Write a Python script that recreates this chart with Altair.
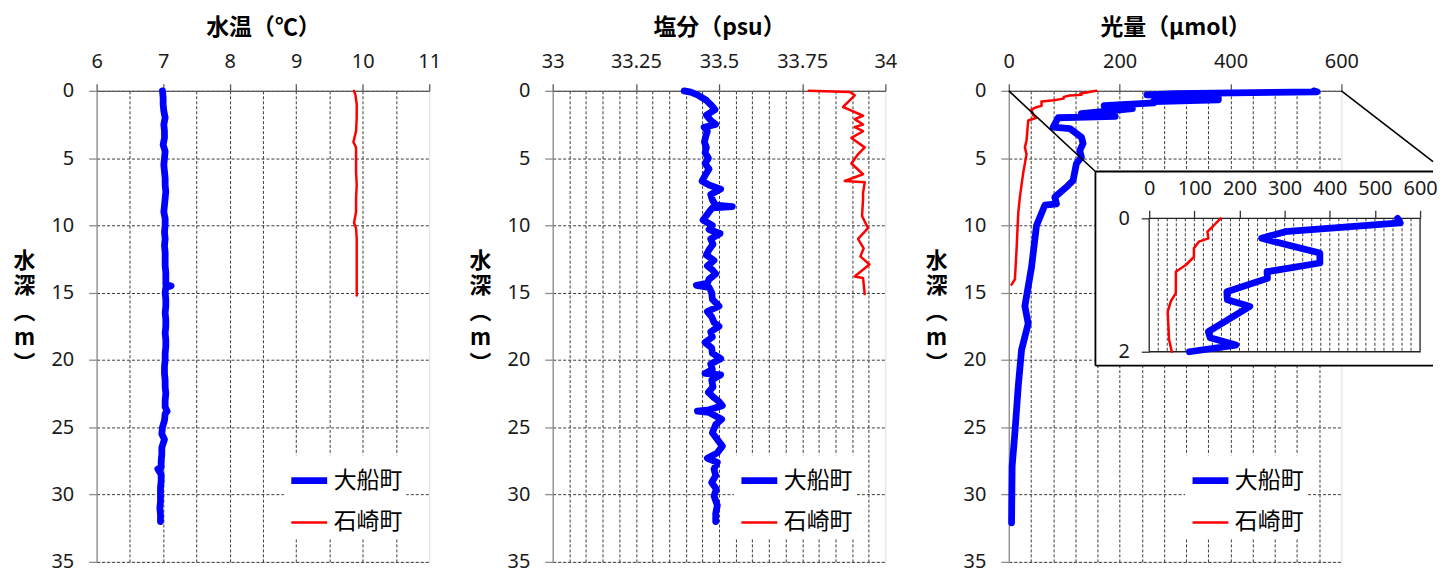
import altair as alt
import pandas as pd

# ---------------- data ----------------
SITES = ["大船町", "石崎町"]
SITE_COLORS = ["#0000FF", "#FF0000"]
SITE_WIDTHS = [6.8, 2.5]

DEPTH_TICKS = [0, 5, 10, 15, 20, 25, 30, 35]
TEMP_TICKS = [6, 7, 8, 9, 10, 11]
TEMP_GRID = [6.5, 7, 7.5, 8, 8.5, 9, 9.5, 10, 10.5]
SAL_TICKS = [33, 33.25, 33.5, 33.75, 34]
SAL_GRID = [33.05, 33.1, 33.15, 33.2, 33.25, 33.3, 33.35, 33.4, 33.45, 33.5,
            33.55, 33.6, 33.65, 33.7, 33.75, 33.8, 33.85, 33.9, 33.95]
LIGHT_TICKS = [0, 200, 400, 600]
LIGHT_GRID = [40, 80, 120, 160, 200, 240, 280, 320, 360, 400, 440, 480, 520, 560]
INSET_TICKS = [0, 100, 200, 300, 400, 500, 600]
INSET_GRID = [20, 40, 60, 80, 100, 120, 140, 160, 180, 200, 220, 240, 260, 280, 300,
              320, 340, 360, 380, 400, 420, 440, 460, 480, 500, 520, 540, 560, 580]
INSET_DEPTH_TICKS = [0, 2]

# 水温
temp_ofunato_depth = [0, 0.5, 1, 1.5, 2, 2.5, 3, 3.5, 4, 4.5, 5, 5.5, 6, 6.5, 7, 7.5, 8, 8.5,
                      9, 9.5, 10, 10.5, 11, 11.5, 12, 12.5, 13, 13.5, 14, 14.4, 14.5, 14.6, 15,
                      15.5, 16, 16.5, 17, 17.5, 18, 18.5, 19, 19.5, 20, 20.5, 21, 21.5, 22, 22.5,
                      23, 23.5, 23.8, 24, 24.5, 25, 25.5, 25.9, 26.5, 27, 27.5, 28, 28.1, 28.5,
                      29, 29.5, 30, 30.5, 31, 31.5, 32]
temp_ofunato_value = [6.99, 7.00, 7.00, 7.01, 7.03, 7.01, 7.02, 7.02, 7.00, 7.03, 7.02, 7.01, 7.02,
                      7.03, 7.03, 7.04, 7.03, 7.02, 7.01, 7.03, 7.03, 7.02, 7.03, 7.02, 7.03, 7.03,
                      7.03, 7.04, 7.04, 7.04, 7.12, 7.04, 7.03, 7.04, 7.04, 7.03, 7.04, 7.04, 7.03,
                      7.04, 7.04, 7.03, 7.03, 7.02, 7.02, 7.03, 7.03, 7.04, 7.03, 7.03, 7.06, 7.03,
                      7.02, 6.99, 6.98, 7.02, 6.98, 6.98, 6.97, 6.97, 6.92, 6.97, 6.97, 6.96, 6.96,
                      6.96, 6.95, 6.96, 6.96]
temp_ishizaki_depth = [0, 0.3, 1, 2, 3, 3.8, 4.2, 5, 6, 7, 8, 9, 9.8, 10.2, 11, 12, 13, 14, 15.2]
temp_ishizaki_value = [9.87, 9.89, 9.91, 9.91, 9.90, 9.86, 9.90, 9.90, 9.90, 9.91, 9.90, 9.90,
                       9.87, 9.90, 9.91, 9.91, 9.91, 9.91, 9.91]

# 塩分
sal_ofunato_depth = [0, 0.1, 0.3, 0.7, 1.1, 1.4, 1.8, 2.2, 2.5, 2.7, 3.0, 3.4, 3.8, 4.2, 4.6, 5.0,
                     5.4, 5.8, 6.2, 6.7, 7.0, 7.3, 7.7, 8.1, 8.5, 8.6, 8.7, 9.0, 9.6, 10.0, 10.3,
                     10.6, 11.0, 11.4, 11.8, 12.2, 12.6, 13.0, 13.3, 13.6, 14.0, 14.3, 14.45, 14.6,
                     15.0, 15.5, 16.0, 16.4, 16.8, 17.2, 17.5, 17.9, 18.3, 18.7, 19.1, 19.5, 19.9,
                     20.3, 20.7, 21.0, 21.1, 21.5, 22.0, 22.4, 22.8, 23.1, 23.4, 23.7, 23.8, 23.9,
                     24.4, 24.8, 25.4, 25.9, 26.4, 26.9, 27.3, 27.6, 28.1, 28.6, 29.1, 29.6, 30.1,
                     30.8, 31.4, 32.0]
sal_ofunato_value = [33.395, 33.415, 33.435, 33.462, 33.478, 33.488, 33.462, 33.475, 33.490, 33.455,
                     33.465, 33.460, 33.456, 33.462, 33.458, 33.468, 33.458, 33.470, 33.460, 33.449,
                     33.470, 33.505, 33.475, 33.480, 33.490, 33.540, 33.480, 33.470, 33.452, 33.480,
                     33.470, 33.503, 33.475, 33.482, 33.470, 33.462, 33.485, 33.465, 33.480, 33.490,
                     33.470, 33.465, 33.432, 33.470, 33.478, 33.480, 33.500, 33.465, 33.478, 33.485,
                     33.500, 33.475, 33.480, 33.458, 33.478, 33.480, 33.505, 33.475, 33.480, 33.458,
                     33.505, 33.478, 33.482, 33.468, 33.485, 33.500, 33.510, 33.470, 33.435, 33.470,
                     33.508, 33.490, 33.480, 33.495, 33.510, 33.495, 33.465, 33.495, 33.485, 33.490,
                     33.478, 33.492, 33.485, 33.495, 33.490, 33.490]
sal_ishizaki_depth = [0, 0.08, 0.33, 0.7, 1.2, 1.47, 1.85, 2.1, 2.5, 2.7, 3.0, 3.5, 4.2, 4.8, 5.4,
                      6.2, 6.7, 6.8, 7.6, 8.1, 9.3, 10.2, 11.0, 11.7, 12.3, 12.9, 13.8, 13.9, 15.1]
sal_ishizaki_value = [33.77, 33.893, 33.908, 33.893, 33.873, 33.898, 33.933, 33.908, 33.933,
                      33.908, 33.933, 33.898, 33.938, 33.915, 33.898, 33.933, 33.878, 33.938,
                      33.933, 33.933, 33.930, 33.948, 33.918, 33.935, 33.925, 33.952, 33.908,
                      33.933, 33.938]

# 光量
light_ofunato_depth = [0, 0.07, 0.2, 0.3, 0.52, 0.67, 0.8, 0.9, 1.1, 1.22, 1.32, 1.7, 1.79, 1.9,
                       2.0, 2.7, 2.8, 3.45, 3.9, 4.44, 4.93, 5.4, 6.66, 7.15, 7.9, 8.4, 8.5, 10.0,
                       13.1, 16.0, 17.3, 19.25, 21.97, 25.4, 27.9, 32.1]
light_ofunato_value = [550, 556, 301, 249, 378, 378, 261, 262, 172, 173, 223, 131, 135, 192, 89,
                       80, 110, 131, 134, 128, 131, 122, 116, 104, 83, 86, 65, 50, 41, 29, 35, 23,
                       17, 11, 6, 5]
light_ishizaki_depth = [0, 0.13, 0.2, 0.3, 0.35, 0.45, 0.58, 0.7, 0.8, 1.12, 1.24, 1.4, 1.82, 2.0,
                        2.2, 3.7, 4.2, 4.7, 6.1, 7.9, 9.1, 11.8, 14.0, 14.4]
light_ishizaki_value = [158, 140, 129, 131, 110, 99, 99, 81, 59, 59, 48, 41, 44, 50, 35, 32, 29,
                        32, 26, 20, 17, 14, 11, 5]


def profile_frame(d1, v1, d2, v2):
    assert len(d1) == len(v1) and len(d2) == len(v2)
    rows = [{"depth": d, "value": v, "site": SITES[0]} for d, v in zip(d1, v1)]
    rows += [{"depth": d, "value": v, "site": SITES[1]} for d, v in zip(d2, v2)]
    return pd.DataFrame(rows)


temp_df = profile_frame(temp_ofunato_depth, temp_ofunato_value, temp_ishizaki_depth, temp_ishizaki_value)
sal_df = profile_frame(sal_ofunato_depth, sal_ofunato_value, sal_ishizaki_depth, sal_ishizaki_value)
light_df = profile_frame(light_ofunato_depth, light_ofunato_value, light_ishizaki_depth, light_ishizaki_value)
inset_df = light_df[light_df["depth"] <= 2].reset_index(drop=True)

# ---------------- styling ----------------
NUM_FONT = "Noto Sans"
JP_FONT = "Noto Sans CJK JP"
GRID_COLOR = "#3a3a3a"
GRID_DASH = [3, 2]
PANEL_W = 334
PANEL_H = 473

# inset placement (pixels within the light panel)
INSET_BOX = {"left": 87, "top": 81, "right": 426, "bottom": 276}
INSET_PLOT_X = [141, 413]
INSET_PLOT_Y = [128, 262]

LEGEND_Y = 366


def depth_axis():
    return alt.Axis(orient="left", values=DEPTH_TICKS, grid=True, gridColor=GRID_COLOR,
                    gridDash=GRID_DASH, gridWidth=1, domainColor="#8c8c8c", domainWidth=1.3,
                    tickColor="#8c8c8c", tickSize=8, tickWidth=1.3, labelFont=NUM_FONT,
                    labelFontSize=20, labelColor="#1a1a1a", labelPadding=15, labelFlush=False,
                    labelOverlap=False, title=["水", "深", "︵", "m", "︶"], titleFont=JP_FONT,
                    titleFontSize=22, titleFontWeight="bold", titleColor="#000", titleAngle=0,
                    titleAlign="center", titleBaseline="middle", titleLineHeight=26,
                    titleX=-73, titleY=170)


def top_axis(values, title, fmt):
    return alt.Axis(orient="top", values=values, grid=False, format=fmt, domainColor="#595959",
                    domainWidth=1.3, tickColor="#595959", tickSize=7, tickWidth=1.3,
                    labelFont=NUM_FONT, labelFontSize=20, labelColor="#1a1a1a", labelPadding=12,
                    labelFlush=False, labelOverlap=False, title=title, titleFont=JP_FONT,
                    titleFontSize=23, titleFontWeight="bold", titleColor="#000", titlePadding=13)


def grid_axis(values):
    return alt.Axis(orient="bottom", values=values, grid=True, gridColor=GRID_COLOR,
                    gridDash=GRID_DASH, gridWidth=1, labels=False, ticks=False, domain=False,
                    title=None)


def site_legend(x):
    return alt.Legend(orient="none", legendX=x, legendY=LEGEND_Y, title=None, symbolType="stroke",
                      symbolSize=1296, labelFont=JP_FONT, labelFontSize=23, labelColor="#000",
                      labelOffset=3, padding=4, fillColor="white", rowPadding=8,
                      labelExpr="datum.label + '　'")


def site_color(x):
    return alt.Color("site:N", scale=alt.Scale(domain=SITES, range=SITE_COLORS), legend=site_legend(x))


def site_width(x):
    return alt.StrokeWidth("site:N", scale=alt.Scale(type="ordinal", domain=SITES, range=SITE_WIDTHS),
                           legend=site_legend(x))


depth_scale = alt.Scale(domain=[0, 35], reverse=True, nice=False, zero=False)


def main_block(df, xdom, ticks, grid_values, title, legend_x, fmt):
    xs = alt.Scale(domain=xdom, nice=False, zero=False)
    base = alt.Chart(df)
    grid = base.mark_line(opacity=0).encode(
        x=alt.X("value:Q", scale=xs, axis=grid_axis(grid_values)),
        y=alt.Y("depth:Q", scale=depth_scale, axis=depth_axis()),
        detail="site:N",
        order="depth:Q",
    )
    lines = base.mark_line(strokeCap="round", strokeJoin="round").encode(
        x=alt.X("value:Q", scale=xs, axis=top_axis(ticks, title, fmt)),
        y=alt.Y("depth:Q", scale=depth_scale, axis=depth_axis()),
        color=site_color(legend_x),
        strokeWidth=site_width(legend_x),
        order="depth:Q",
    )
    return grid, lines


# panel 1 & 2
g1, l1 = main_block(temp_df, [6, 11], TEMP_TICKS, TEMP_GRID, "水温（℃）", 188, "d")
panel1 = alt.layer(g1, l1).resolve_axis(x="independent").properties(width=PANEL_W, height=PANEL_H)

g2, l2 = main_block(sal_df, [33, 34], SAL_TICKS, SAL_GRID, "塩分（psu）", 182, ".6~g")
panel2 = alt.layer(g2, l2).resolve_axis(x="independent").properties(width=PANEL_W, height=PANEL_H)

# panel 3 with inset
g3, l3 = main_block(light_df, [0, 600], LIGHT_TICKS, LIGHT_GRID, "光量（µmol）", 177, "d")
one = pd.DataFrame({"k": [0]})
deco = alt.Chart(one)
conn_left = deco.mark_rule(color="#000", strokeWidth=1.6).encode(
    x=alt.value(0), y=alt.value(0), x2=alt.value(INSET_BOX["left"]), y2=alt.value(INSET_BOX["top"]))
conn_right = deco.mark_rule(color="#000", strokeWidth=1.6).encode(
    x=alt.value(PANEL_W), y=alt.value(0), x2=alt.value(INSET_BOX["right"]),
    y2=alt.value((INSET_BOX["right"] - PANEL_W) * 0.772))
box_bg = deco.mark_rect(fill="white").encode(
    x=alt.value(INSET_BOX["left"]), x2=alt.value(INSET_BOX["right"]),
    y=alt.value(INSET_BOX["top"]), y2=alt.value(INSET_BOX["bottom"]))
box_top = deco.mark_rule(color="#000", strokeWidth=1.8).encode(
    x=alt.value(INSET_BOX["left"]), x2=alt.value(INSET_BOX["right"]),
    y=alt.value(INSET_BOX["top"]), y2=alt.value(INSET_BOX["top"]))
box_left = deco.mark_rule(color="#000", strokeWidth=1.8).encode(
    x=alt.value(INSET_BOX["left"]), x2=alt.value(INSET_BOX["left"]),
    y=alt.value(INSET_BOX["top"]), y2=alt.value(INSET_BOX["bottom"]))
box_bottom = deco.mark_rule(color="#000", strokeWidth=1.8).encode(
    x=alt.value(INSET_BOX["left"]), x2=alt.value(INSET_BOX["right"]),
    y=alt.value(INSET_BOX["bottom"]), y2=alt.value(INSET_BOX["bottom"]))
main3 = alt.layer(g3, l3, conn_left, conn_right, box_bg, box_top, box_left, box_bottom).resolve_axis(x="independent")

ix = alt.Scale(domain=[0, 600], range=INSET_PLOT_X, nice=False, zero=False)
iy = alt.Scale(domain=[0, 2], range=INSET_PLOT_Y, nice=False, zero=False)
inset_x_axis = alt.Axis(orient="top", offset=-INSET_PLOT_Y[0], values=INSET_TICKS, format="d",
                        grid=False, domain=False, tickColor="#333", tickSize=8,
                        tickWidth=1.3, labelFont=NUM_FONT, labelFontSize=20,
                        labelColor="#1a1a1a", labelPadding=12, labelFlush=False,
                        labelOverlap=False, zindex=1, title=None)
inset_y_axis = alt.Axis(orient="left", offset=-INSET_PLOT_X[0], values=INSET_DEPTH_TICKS, format="d",
                        grid=False, domain=False, tickColor="#333", tickSize=8,
                        tickWidth=1.3, labelFont=NUM_FONT, labelFontSize=20,
                        labelColor="#1a1a1a", labelPadding=12, labelFlush=False,
                        labelOverlap=False, zindex=1, title=None)
inset_grid_df = pd.DataFrame({"g": INSET_GRID, "top": 0, "bottom": 2})
inset_grid = alt.Chart(inset_grid_df).mark_rule(color=GRID_COLOR, strokeDash=GRID_DASH, strokeWidth=1).encode(
    x=alt.X("g:Q", scale=ix, axis=inset_x_axis),
    y=alt.Y("top:Q", scale=iy, axis=inset_y_axis),
    y2="bottom:Q",
)
frame_df = pd.DataFrame({"x0": [0], "x1": [600], "y0": [0], "y1": [2]})
inset_frame = alt.Chart(frame_df).mark_rect(fillOpacity=0, stroke="#222", strokeWidth=1.3).encode(
    x=alt.X("x0:Q", scale=ix, axis=inset_x_axis), x2="x1:Q",
    y=alt.Y("y0:Q", scale=iy, axis=inset_y_axis), y2="y1:Q")
inset_lines = alt.Chart(inset_df).mark_line(strokeCap="round", strokeJoin="round").encode(
    x=alt.X("value:Q", scale=ix, axis=inset_x_axis),
    y=alt.Y("depth:Q", scale=iy, axis=inset_y_axis),
    color=site_color(177),
    strokeWidth=site_width(177),
    order="depth:Q",
)
inset3 = alt.layer(inset_grid, inset_frame, inset_lines)

panel3 = alt.layer(main3, inset3).resolve_scale(x="independent", y="independent").properties(
    width=PANEL_W, height=PANEL_H)

chart = alt.hconcat(panel1, panel2, panel3, spacing=124, bounds="flush").resolve_scale(
    color="independent", strokeWidth="independent").resolve_legend(
    color="independent", strokeWidth="independent").properties(
    padding={"left": 4, "top": 6, "right": 0, "bottom": 0}).configure_view(
    stroke="#8c8c8c", strokeWidth=1.3).configure(background="white")

chart.save("out.html", embed_options={"renderer": "svg", "actions": False})
